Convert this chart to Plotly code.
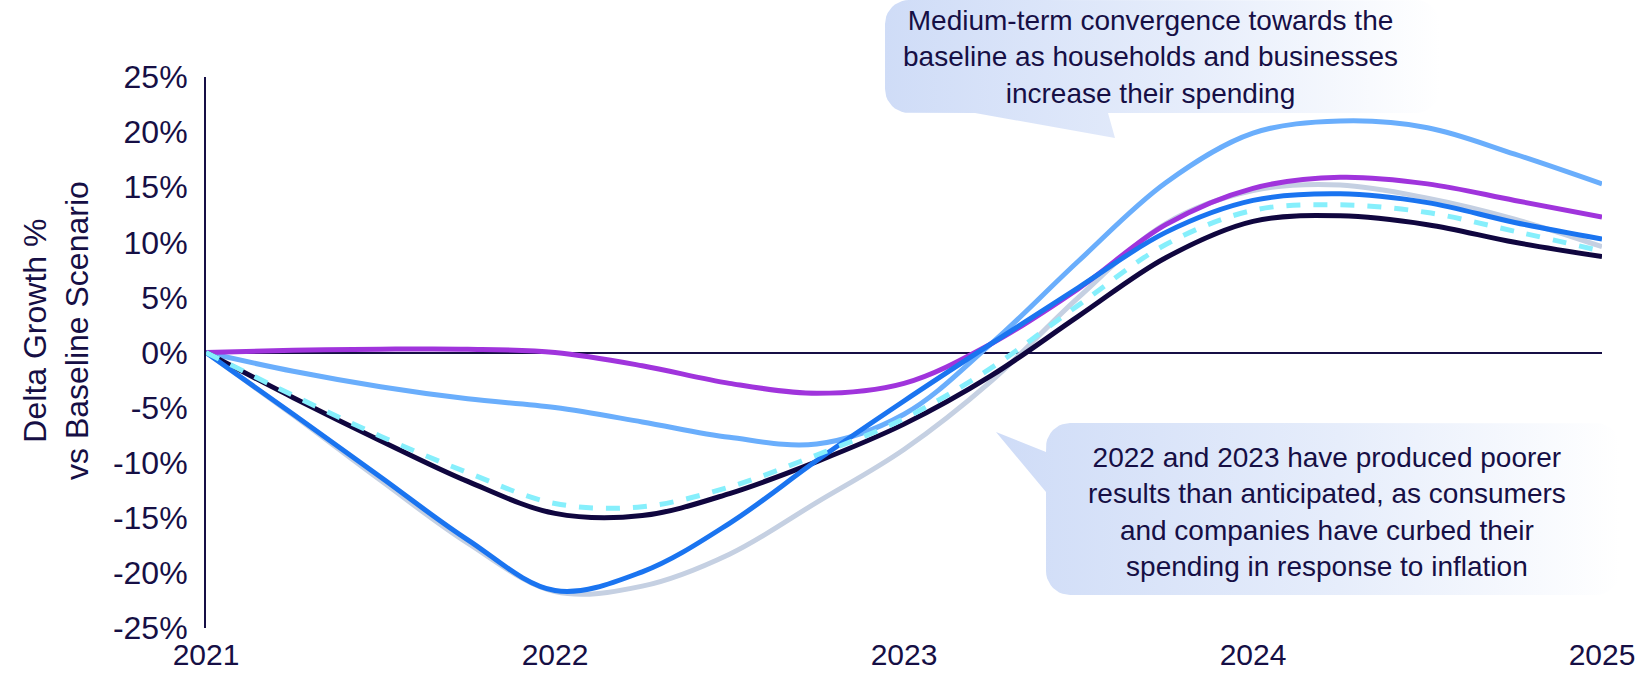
import math
import plotly.graph_objects as go

# ---- data -------------------------------------------------------------
years = [2021, 2021.25, 2021.5, 2021.75, 2022, 2022.25, 2022.5, 2022.75,
         2023, 2023.25, 2023.5, 2023.75, 2024, 2024.25, 2024.5, 2024.75, 2025]

gray_vals = [0, -5.7, -11.6, -17.3, -21.7, -21.2, -18.3, -13.6,
             -8.8, -2.6, 5.0, 11.7, 14.7, 15.2, 14.0, 12.1, 9.6]
sky_vals = [0, -1.7, -3.1, -4.2, -5.0, -6.3, -7.7, -8.3,
            -5.6, 0.8, 8.3, 15.4, 19.9, 21.0, 20.4, 18.0, 15.3]
purple_vals = [0, 0.2, 0.3, 0.3, 0.0, -1.2, -2.8, -3.7,
               -2.8, 0.8, 5.8, 11.6, 14.9, 15.9, 15.3, 13.8, 12.3]
navy_vals = [0, -4.1, -8.0, -11.7, -14.6, -14.8, -12.8, -9.9,
             -6.5, -2.1, 3.3, 8.6, 11.9, 12.4, 11.6, 10.0, 8.7]
blue_vals = [0, -5.6, -11.3, -17.0, -21.6, -19.9, -15.5, -9.8,
             -4.4, 0.8, 5.9, 10.9, 13.8, 14.4, 13.6, 11.8, 10.3]
cyan_vals = [0, -3.9, -7.6, -10.9, -13.7, -14.0, -12.2, -9.3,
             -6.0, -1.4, 4.3, 9.8, 12.9, 13.4, 12.7, 11.0, 9.2]

x_ticks = [2021, 2022, 2023, 2024, 2025]
x_labels = ["2021", "2022", "2023", "2024", "2025"]
y_ticks = [-25, -20, -15, -10, -5, 0, 5, 10, 15, 20, 25]
y_labels = [f"{v}%" for v in y_ticks]

y_title = "Delta Growth %<br>vs Baseline Scenario"
note_top = ("Medium-term convergence towards the<br>"
            "baseline as households and businesses<br>"
            "increase their spending")
note_bottom = ("2022 and 2023 have produced poorer<br>"
               "results than anticipated, as consumers<br>"
               "and companies have curbed their<br>"
               "spending in response to inflation")

# ---- style ------------------------------------------------------------
W, H = 1637, 673
FONT = "Liberation Sans, Arial, sans-serif"
INK = "#160f45"
PLOT_L, PLOT_R, PLOT_T, PLOT_B = 206, 1602, 77, 628

series = [
    ("Scenario E", gray_vals, "#c5d0e2", "solid"),
    ("Scenario B", sky_vals, "#6aaefc", "solid"),
    ("Scenario C", purple_vals, "#a034dc", "solid"),
    ("Scenario A", navy_vals, "#10063f", "solid"),
    ("Scenario D", blue_vals, "#1a74f0", "solid"),
    ("Scenario F", cyan_vals, "#86effc", "14px,13px"),
]

fig = go.Figure()

for name, vals, color, dash in series:
    fig.add_trace(go.Scatter(
        x=years, y=vals, name=name, mode="lines",
        line=dict(color=color, width=5, shape="spline", smoothing=1.0, dash=dash),
        showlegend=False, hoverinfo="skip",
    ))


# ---- callout bubbles (pixel space overlay) ----------------------------
def bubble(x0, y0, x1, y1, r, tail_side, tail):
    pts = []

    def arc(cx, cy, a0, a1, n=10):
        for i in range(n + 1):
            t = math.radians(a0 + (a1 - a0) * i / n)
            pts.append((cx + r * math.cos(t), cy + r * math.sin(t)))

    pts.append((x0 + r, y0))
    pts.append((x1 - r, y0))
    arc(x1 - r, y0 + r, -90, 0)
    pts.append((x1, y1 - r))
    arc(x1 - r, y1 - r, 0, 90)
    if tail_side == "bottom":
        pts.extend(tail)
    pts.append((x0 + r, y1))
    arc(x0 + r, y1 - r, 90, 180)
    if tail_side == "left":
        pts.extend(tail)
    pts.append((x0, y0 + r))
    arc(x0 + r, y0 + r, 180, 270)
    xs = [p[0] for p in pts] + [pts[0][0]]
    ys = [p[1] for p in pts] + [pts[0][1]]
    return xs, ys


grad = [[0, "#cfdcf7"], [0.55, "#e6edfb"], [1, "#ffffff"]]

bx, by = bubble(885, 0, 1440, 113, 24, "bottom",
                [(1108, 113), (1115, 138), (975, 113)])
fig.add_trace(go.Scatter(
    x=bx, y=by, xaxis="x2", yaxis="y2", mode="lines", fill="toself",
    line=dict(width=0), fillgradient=dict(type="horizontal", colorscale=grad),
    showlegend=False, hoverinfo="skip",
))

bx, by = bubble(1046, 423, 1620, 595, 24, "left",
                [(1046, 492), (996, 432), (1046, 452)])
fig.add_trace(go.Scatter(
    x=bx, y=by, xaxis="x2", yaxis="y2", mode="lines", fill="toself",
    line=dict(width=0), fillgradient=dict(type="horizontal", colorscale=grad),
    showlegend=False, hoverinfo="skip",
))

fig.add_annotation(
    x=1150, y=57, xref="x2", yref="y2", text=note_top, showarrow=False,
    font=dict(family=FONT, size=28, color=INK), align="center",
)
fig.add_annotation(
    x=1327, y=512, xref="x2", yref="y2", text=note_bottom, showarrow=False,
    font=dict(family=FONT, size=28, color=INK), align="center",
)
fig.add_annotation(
    x=56, y=331, xref="x2", yref="y2", text=y_title, showarrow=False,
    textangle=-90, font=dict(family=FONT, size=32, color=INK), align="center",
)

fig.update_layout(
    width=W, height=H,
    margin=dict(l=0, r=0, t=0, b=0),
    paper_bgcolor="white", plot_bgcolor="rgba(0,0,0,0)",
    font=dict(family=FONT, color=INK),
    xaxis=dict(
        domain=[PLOT_L / W, PLOT_R / W], range=[2021, 2025], automargin=False,
        tickvals=x_ticks, ticktext=x_labels, showgrid=False, zeroline=False,
        showline=False, ticks="", tickfont=dict(size=30, color=INK),
        ticklabelstandoff=6, anchor="y",
    ),
    yaxis=dict(
        domain=[1 - PLOT_B / H, 1 - PLOT_T / H], range=[-25, 25], automargin=False,
        tickvals=y_ticks, ticktext=y_labels, showgrid=False,
        zeroline=True, zerolinecolor=INK, zerolinewidth=1.5,
        showline=True, linecolor=INK, linewidth=2, ticks="",
        tickfont=dict(size=32, color=INK), ticklabelstandoff=10, anchor="x",
    ),
    xaxis2=dict(domain=[0, 1], range=[0, W], visible=False, anchor="y2",
                automargin=False),
    yaxis2=dict(domain=[0, 1], range=[H, 0], visible=False, anchor="x2",
                automargin=False),
)

fig.write_html("out.html")
